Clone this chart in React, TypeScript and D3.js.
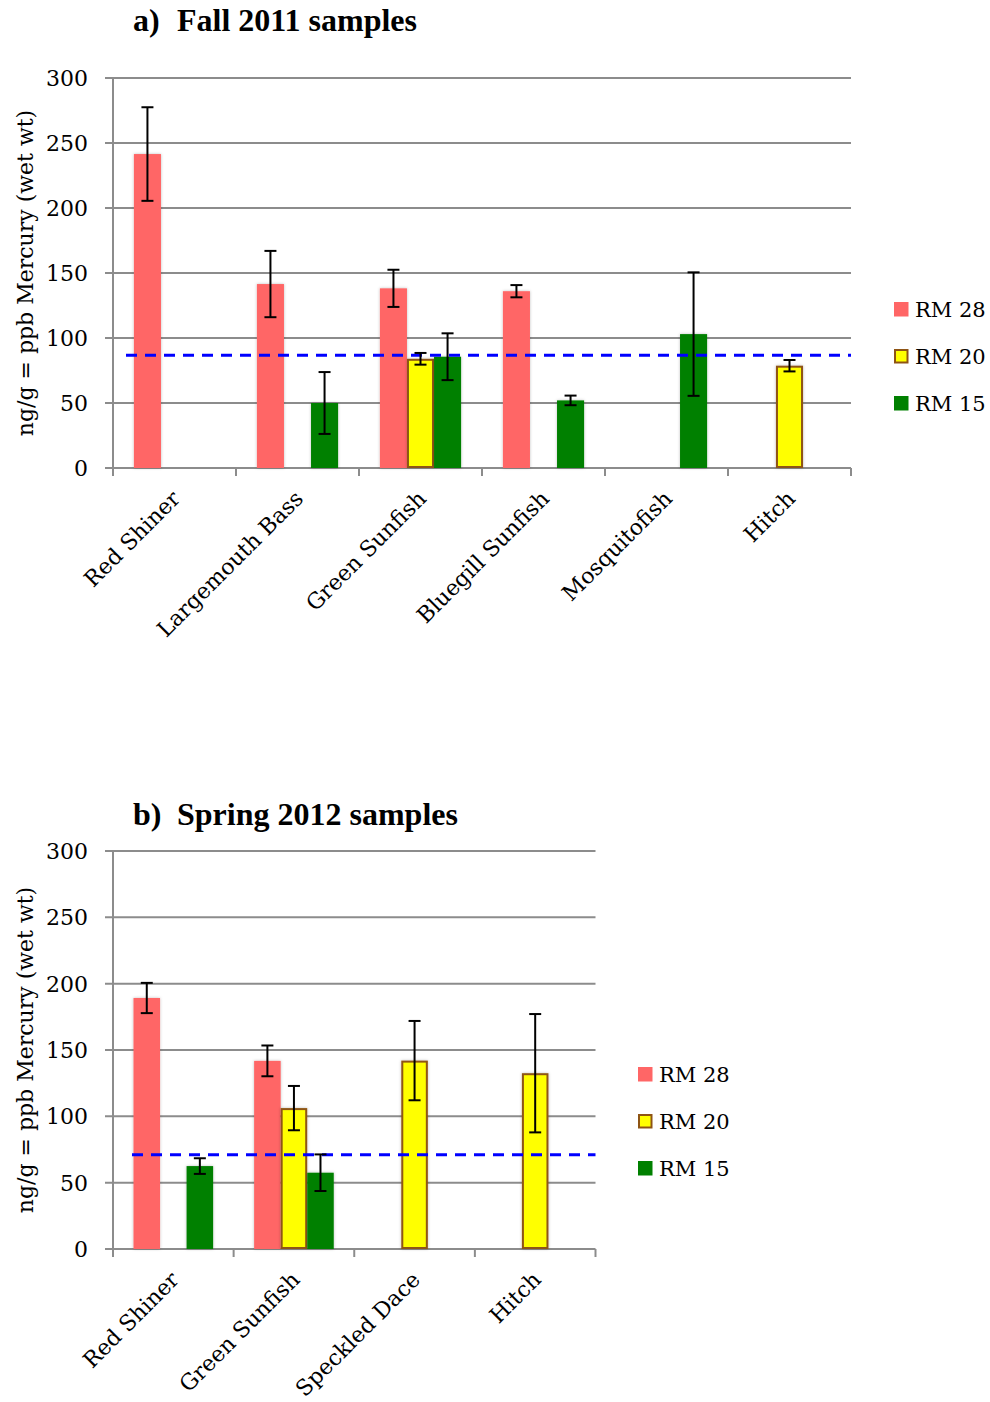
import { useEffect, useRef } from "react";
import * as d3 from "d3";

// series shared by both panels
const seriesNames = ["RM 28", "RM 20", "RM 15"];
const seriesFill = ["#ff6666", "#ffff00", "#008000"];
const seriesStroke = ["none", "#8e5414", "none"];
const yTicks = [0, 50, 100, 150, 200, 250, 300];

// a) Fall 2011
const fallFish = ["Red Shiner", "Largemouth Bass", "Green Sunfish", "Bluegill Sunfish", "Mosquitofish", "Hitch"];
const fallRM28 = [241.5, 141.5, 138.2, 136, null, null];
const fallRM28Err = [36, 25.5, 14.3, 4.7, null, null];
const fallRM20 = [null, null, 84, null, null, 78.7];
const fallRM20Err = [null, null, 4.5, null, null, 4.4];
const fallRM15 = [null, 50, 85.6, 52, 103, null];
const fallRM15Err = [null, 23.8, 18, 3.7, 47.5, null];
const fallThreshold = 86.7;

// b) Spring 2012
const springFish = ["Red Shiner", "Green Sunfish", "Speckled Dace", "Hitch"];
const springRM28 = [189.2, 141.8, null, null];
const springRM28Err = [11.4, 11.6, null, null];
const springRM20 = [null, 106.2, 142, 132.5];
const springRM20Err = [null, 16.7, 29.9, 44.6];
const springRM15 = [62.5, 57.5, null, null];
const springRM15Err = [5.9, 13.8, null, null];
const springThreshold = 71;

const serif = "'DejaVu Serif', serif";
const gridColor = "#8c8c8c";

type Panel = {
  letter: string;
  title: string;
  titleY: number;
  cats: string[];
  values: (number | null)[][];
  errors: (number | null)[][];
  threshold: number;
  left: number;
  right: number;
  top: number;
  bottom: number;
  lineStart: number;
  legendX: number;
  legendY: number;
};

function drawPanel(svg: d3.Selection<SVGSVGElement, unknown, null, undefined>, p: Panel) {
  const g = svg.append("g");
  const x0 = d3.scaleBand<string>().domain(p.cats).range([p.left, p.right]);
  const bw = x0.bandwidth();
  const x1 = d3
    .scaleBand<string>()
    .domain(seriesNames)
    .range([bw / 2 - bw * 0.33, bw / 2 + bw * 0.33]);
  const y = d3.scaleLinear().domain([0, 300]).range([p.bottom, p.top]);

  // title
  g.append("text")
    .attr("x", 133)
    .attr("y", p.titleY)
    .style("font-family", "'Liberation Serif', serif")
    .style("font-weight", "bold")
    .style("font-size", "32px")
    .text(p.letter);
  g.append("text")
    .attr("x", 177)
    .attr("y", p.titleY)
    .style("font-family", "'Liberation Serif', serif")
    .style("font-weight", "bold")
    .style("font-size", "32px")
    .text(p.title);

  // grid + y ticks
  g.selectAll(".grid")
    .data(yTicks)
    .join("line")
    .attr("x1", p.left - 8)
    .attr("x2", p.right)
    .attr("y1", (d) => y(d))
    .attr("y2", (d) => y(d))
    .attr("stroke", gridColor)
    .attr("stroke-width", 2);

  g.selectAll(".ylab")
    .data(yTicks)
    .join("text")
    .attr("x", 88)
    .attr("y", (d) => y(d))
    .attr("dy", "0.36em")
    .attr("text-anchor", "end")
    .style("font-family", serif)
    .style("font-size", "22px")
    .text((d) => d);

  g.append("line")
    .attr("x1", p.left)
    .attr("x2", p.left)
    .attr("y1", p.top)
    .attr("y2", p.bottom)
    .attr("stroke", gridColor)
    .attr("stroke-width", 2);

  const bounds = p.cats.map((c) => x0(c)!).concat([p.right]);
  g.selectAll(".xtick")
    .data(bounds)
    .join("line")
    .attr("x1", (d) => d)
    .attr("x2", (d) => d)
    .attr("y1", p.bottom)
    .attr("y2", p.bottom + 8)
    .attr("stroke", gridColor)
    .attr("stroke-width", 2);

  // y axis title
  g.append("text")
    .attr("transform", `translate(33,${(p.top + p.bottom) / 2}) rotate(-90)`)
    .attr("text-anchor", "middle")
    .style("font-family", serif)
    .style("font-size", "22px")
    .text("ng/g = ppb Mercury (wet wt)");

  // category labels
  g.selectAll(".xlab")
    .data(p.cats)
    .join("text")
    .attr("transform", (d) => `translate(${x0(d)! + bw / 2 + 7},${p.bottom + 32}) rotate(-45)`)
    .attr("text-anchor", "end")
    .style("font-family", serif)
    .style("font-size", "22px")
    .text((d) => d);

  // bars
  seriesNames.forEach((s, si) => {
    const rows = p.cats
      .map((c, i) => ({ c, v: p.values[si][i], e: p.errors[si][i] }))
      .filter((d) => d.v != null) as { c: string; v: number; e: number | null }[];
    const inset = seriesStroke[si] === "none" ? 0 : 1;
    g.selectAll(`.bar${si}`)
      .data(rows)
      .join("rect")
      .attr("x", (d) => x0(d.c)! + x1(s)! + inset)
      .attr("y", (d) => y(d.v) + inset)
      .attr("width", x1.bandwidth() - inset * 2)
      .attr("height", (d) => p.bottom - y(d.v) - inset * 2)
      .attr("fill", seriesFill[si])
      .attr("stroke", seriesStroke[si])
      .attr("stroke-width", 2)
      .attr("filter", "url(#shadow)");
  });

  // threshold
  g.append("line")
    .attr("x1", p.left + p.lineStart)
    .attr("x2", p.right)
    .attr("y1", y(p.threshold))
    .attr("y2", y(p.threshold))
    .attr("stroke", "#0000ff")
    .attr("stroke-width", 3)
    .attr("stroke-dasharray", "11 8");

  // error bars
  seriesNames.forEach((s, si) => {
    const rows = p.cats
      .map((c, i) => ({ c, v: p.values[si][i], e: p.errors[si][i] }))
      .filter((d) => d.v != null && d.e != null) as { c: string; v: number; e: number }[];
    const cx = (d: { c: string }) => x0(d.c)! + x1(s)! + x1.bandwidth() / 2;
    const eg = g.selectAll(`.err${si}`).data(rows).join("g");
    eg.append("line")
      .attr("x1", cx)
      .attr("x2", cx)
      .attr("y1", (d) => y(d.v + d.e))
      .attr("y2", (d) => y(d.v - d.e))
      .attr("stroke", "#000")
      .attr("stroke-width", 2);
    [1, -1].forEach((sign) => {
      eg.append("line")
        .attr("x1", (d) => cx(d) - 6)
        .attr("x2", (d) => cx(d) + 6)
        .attr("y1", (d) => y(d.v + sign * d.e))
        .attr("y2", (d) => y(d.v + sign * d.e))
        .attr("stroke", "#000")
        .attr("stroke-width", 2);
    });
  });

  // legend
  const lg = g.selectAll(".leg").data(seriesNames).join("g")
    .attr("transform", (_, i) => `translate(${p.legendX},${p.legendY + i * 47})`);
  lg.append("rect")
    .attr("x", (_, i) => (seriesStroke[i] === "none" ? 0 : 1))
    .attr("y", (_, i) => (seriesStroke[i] === "none" ? 0 : 1))
    .attr("width", (_, i) => (seriesStroke[i] === "none" ? 14.5 : 12.5))
    .attr("height", (_, i) => (seriesStroke[i] === "none" ? 14.5 : 12.5))
    .attr("fill", (_, i) => seriesFill[i])
    .attr("stroke", (_, i) => seriesStroke[i])
    .attr("stroke-width", 2);
  lg.append("text")
    .attr("x", 21)
    .attr("y", 15)
    .style("font-family", serif)
    .style("font-size", "21px")
    .text((d) => d);
}

export default function App() {
  const svgRef = useRef<SVGSVGElement>(null);

  useEffect(() => {
    const svg = d3.select(svgRef.current!);
    svg.selectAll("*").remove();

    const defs = svg.append("defs");
    defs.append("filter")
      .attr("id", "shadow")
      .attr("x", "-20%").attr("y", "-5%").attr("width", "140%").attr("height", "110%")
      .append("feDropShadow")
      .attr("dx", 0).attr("dy", 0).attr("stdDeviation", 1.5)
      .attr("flood-color", "#000").attr("flood-opacity", 0.25);

    drawPanel(svg, {
      letter: "a)",
      title: "Fall 2011 samples",
      titleY: 31,
      cats: fallFish,
      values: [fallRM28, fallRM20, fallRM15],
      errors: [fallRM28Err, fallRM20Err, fallRM15Err],
      threshold: fallThreshold,
      left: 113,
      right: 851,
      top: 78,
      bottom: 468,
      lineStart: 13,
      legendX: 894,
      legendY: 302,
    });

    drawPanel(svg, {
      letter: "b)",
      title: "Spring 2012 samples",
      titleY: 825,
      cats: springFish,
      values: [springRM28, springRM20, springRM15],
      errors: [springRM28Err, springRM20Err, springRM15Err],
      threshold: springThreshold,
      left: 113,
      right: 595.5,
      top: 851,
      bottom: 1249,
      lineStart: 19,
      legendX: 638,
      legendY: 1067,
    });
  }, []);

  return (
    <svg
      ref={svgRef}
      width={990}
      height={1402}
      style={{ position: "absolute", left: 0, top: 0, background: "#fff" }}
    />
  );
}
